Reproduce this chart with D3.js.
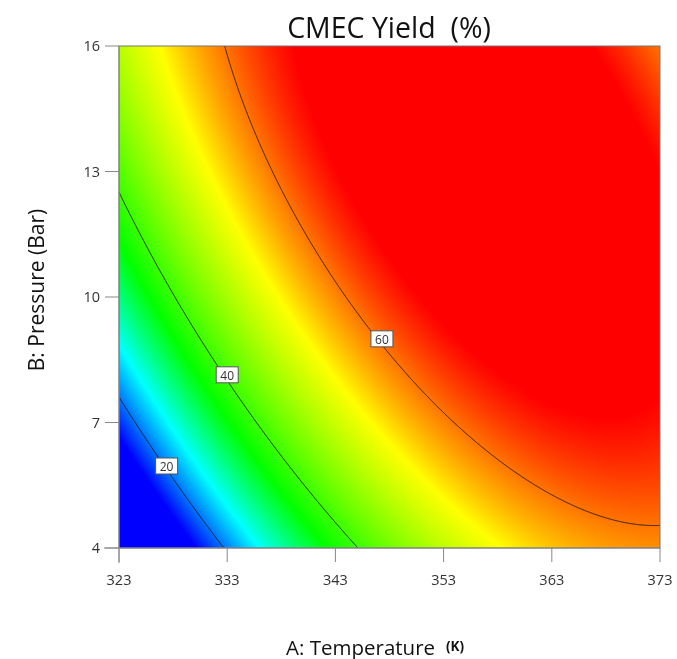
<!DOCTYPE html>
<html><head><meta charset="utf-8">
<script src="https://cdn.jsdelivr.net/npm/d3@7"></script>
<style>body{margin:0;background:#fff} svg{font-family:"Open Sans",sans-serif}</style>
</head><body>
<div id="wrap" style="position:relative;width:677px;height:659px">
<canvas id="cv" style="position:absolute"></canvas>
<svg id="sv" width="677" height="659" style="position:absolute;left:0;top:0"></svg>
</div>
<script>
// Axis ticks
const tempTicks=[323,333,343,353,363,373];
const pressTicks=[4,7,10,13,16];
// Contour levels shown on the plot
const contourLevels=[20,40,60];
// Quadratic response-surface model (coded units): [b0, A, B, AB, A^2, B^2]
const modelCoef=[63.23,17.70,12.62,-11.99,-14.60,-6.95];
const tempRange=[323,373];
const pressRange=[4,16];
// Contour label anchors (Temperature, Pressure)
const labelT=[327.4,333.0,347.3];
const labelP=[5.96,8.14,9.0];
// Colour stops (yield %)
const colorStops=[15,26,36,53.5,59.5,65];
const colorRange=["#0000ff","#00ffff","#00ff00","#ffff00","#ff8000","#ff0000"];

const tc=(tempRange[0]+tempRange[1])/2, th=(tempRange[1]-tempRange[0])/2;
const pc=(pressRange[0]+pressRange[1])/2, ph=(pressRange[1]-pressRange[0])/2;
const f=(T,P)=>{const a=(T-tc)/th,b=(P-pc)/ph,c=modelCoef;return c[0]+c[1]*a+c[2]*b+c[3]*a*b+c[4]*a*a+c[5]*b*b;};

const X0=119,X1=660,Y0=46,Y1=548;
const x=d3.scaleLinear().domain(tempRange).range([X0,X1]);
const y=d3.scaleLinear().domain(pressRange).range([Y1,Y0]);
const color=d3.scaleLinear().domain(colorStops).range(colorRange).clamp(true);

const W=X1-X0,H=Y1-Y0;
const cv=document.getElementById('cv');cv.width=W;cv.height=H;cv.style.left=X0+'px';cv.style.top=Y0+'px';
const ctx=cv.getContext('2d');const img=ctx.createImageData(W,H);
for(let j=0;j<H;j++)for(let i=0;i<W;i++){const v=f(x.invert(X0+i+0.5),y.invert(Y0+j+0.5));
 const c=d3.rgb(color(v));const k=(j*W+i)*4;img.data[k]=c.r;img.data[k+1]=c.g;img.data[k+2]=c.b;img.data[k+3]=255;}
ctx.putImageData(img,0,0);

const svg=d3.select('#sv');
svg.append('defs').append('clipPath').attr('id','cp').append('rect').attr('x',X0).attr('y',Y0).attr('width',W).attr('height',H);
const pad=3,nx=W+2*pad,ny=H+2*pad,vals=new Float64Array(nx*ny);
for(let j=0;j<ny;j++)for(let i=0;i<nx;i++)vals[j*nx+i]=f(x.invert(X0-pad+i+0.5),y.invert(Y0-pad+j+0.5));
const cs=d3.contours().size([nx,ny]).thresholds(contourLevels)(vals);
const path=d3.geoPath(d3.geoIdentity().translate([X0-pad,Y0-pad]));
svg.append('g').attr('clip-path','url(#cp)').selectAll('path').data(cs).join('path').attr('d',path).attr('fill','none').attr('stroke','#2a1a14').attr('stroke-width',1);
svg.append('rect').attr('x',X0).attr('y',Y0).attr('width',W).attr('height',H).attr('fill','none').attr('stroke','#777');

const gx=svg.append('g').attr('transform',`translate(0,${Y1})`);
gx.append('line').attr('x1',X0-15).attr('x2',X1).attr('stroke','#888');
gx.selectAll('line.t').data(tempTicks).join('line').attr('class','t').attr('x1',d=>x(d)).attr('x2',d=>x(d)).attr('y1',0).attr('y2',14).attr('stroke','#888');
gx.selectAll('text').data(tempTicks).join('text').attr('x',d=>x(d)).attr('y',37).attr('text-anchor','middle').attr('font-size',14.5).attr('fill','#333').text(d=>d);
const gy=svg.append('g').attr('transform',`translate(${X0},0)`);
gy.append('line').attr('y1',Y0).attr('y2',Y1+15).attr('stroke','#888');
gy.selectAll('line.t').data(pressTicks).join('line').attr('class','t').attr('y1',d=>y(d)).attr('y2',d=>y(d)).attr('x1',-14).attr('x2',0).attr('stroke','#888');
gy.selectAll('text').data(pressTicks).join('text').attr('x',-19).attr('y',d=>y(d)+5).attr('text-anchor','end').attr('font-size',14.5).attr('fill','#333').text(d=>d);

svg.append('text').attr('x',389).attr('y',38).attr('text-anchor','middle').attr('font-size',28.5).attr('fill','#111').style('white-space','pre').text('CMEC Yield  (%)');
svg.append('text').attr('x',286).attr('y',655).attr('font-size',20.5).attr('fill','#111').text('A: Temperature');
svg.append('text').attr('x',446).attr('y',651).attr('font-size',13.5).attr('font-weight','bold').attr('fill','#111').text('(K)');
svg.append('text').attr('transform','translate(44,290) rotate(-90)').attr('text-anchor','middle').attr('font-size',21).attr('fill','#111').text('B: Pressure (Bar)');

const lg=svg.append('g').selectAll('g').data(contourLevels).join('g').attr('transform',(d,i)=>`translate(${x(labelT[i])},${y(labelP[i])})`);
lg.append('rect').attr('x',-11).attr('y',-8).attr('width',22).attr('height',16).attr('fill','#fff').attr('stroke','#555');
lg.append('text').attr('y',5).attr('text-anchor','middle').attr('font-size',12).attr('fill','#333').text(d=>d);
</script>
</body></html>
